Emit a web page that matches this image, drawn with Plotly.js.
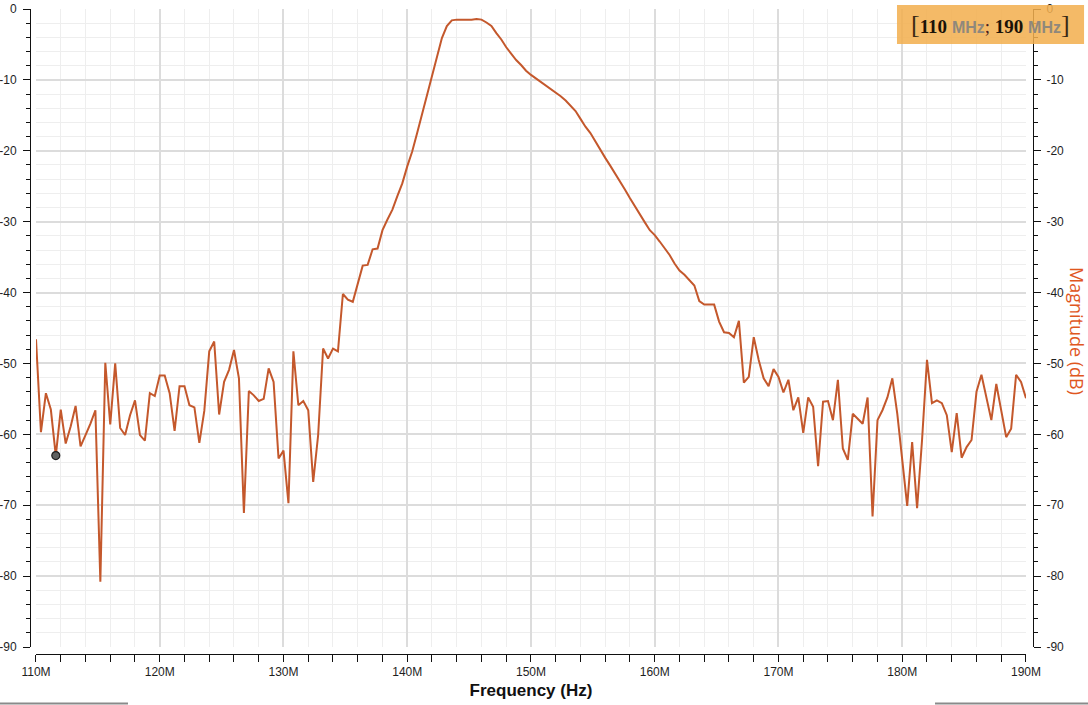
<!DOCTYPE html>
<html>
<head>
<meta charset="utf-8">
<script src="https://cdn.plot.ly/plotly-3.0.1.min.js"></script>
<style>
  html, body { margin: 0; padding: 0; background: #ffffff; }
  #chart { width: 1088px; height: 705px; }
</style>
</head>
<body>
<div id="chart"></div>
<script>
// ---- data ----
const freqMHz = [
  110,110.4,110.8,111.2,111.6,112,112.4,112.8,113.2,113.6,
  114,114.4,114.8,115.2,115.6,116,116.4,116.8,117.2,117.6,
  118,118.4,118.8,119.2,119.6,120,120.4,120.8,121.2,121.6,
  122,122.4,122.8,123.2,123.6,124,124.4,124.8,125.2,125.6,
  126,126.4,126.8,127.2,127.6,128,128.4,128.8,129.2,129.6,
  130,130.4,130.8,131.2,131.6,132,132.4,132.8,133.2,133.6,
  134,134.4,134.8,135.2,135.6,136,136.4,136.8,137.2,137.6,
  138,138.4,138.8,139.2,139.6,140,140.4,140.8,141.2,141.6,
  142,142.4,142.8,143.2,143.6,144,144.4,144.8,145.2,145.6,
  146,146.4,146.8,147.2,147.6,148,148.4,148.8,149.2,149.6,
  150,150.4,150.8,151.2,151.6,152,152.4,152.8,153.2,153.6,
  154,154.4,154.8,155.2,155.6,156,156.4,156.8,157.2,157.6,
  158,158.4,158.8,159.2,159.6,160,160.4,160.8,161.2,161.6,
  162,162.4,162.8,163.2,163.6,164,164.4,164.8,165.2,165.6,
  166,166.4,166.8,167.2,167.6,168,168.4,168.8,169.2,169.6,
  170,170.4,170.8,171.2,171.6,172,172.4,172.8,173.2,173.6,
  174,174.4,174.8,175.2,175.6,176,176.4,176.8,177.2,177.6,
  178,178.4,178.8,179.2,179.6,180,180.4,180.8,181.2,181.6,
  182,182.4,182.8,183.2,183.6,184,184.4,184.8,185.2,185.6,
  186,186.4,186.8,187.2,187.6,188,188.4,188.8,189.2,189.6,
  190
];
const magnitudeDb = [
  -46.6,-59.7,-54.2,-56.5,-63.0,-56.5,-61.3,-58.9,-56.0,-61.7,
  -60.1,-58.5,-56.6,-80.8,-49.9,-58.6,-50.0,-59.1,-60.1,-57.3,
  -55.2,-60.1,-60.9,-54.2,-54.6,-51.7,-51.7,-54.2,-59.5,-53.2,
  -53.2,-55.9,-56.2,-61.2,-56.7,-48.3,-46.9,-57.2,-52.6,-50.9,
  -48.1,-52.1,-71.1,-53.9,-54.5,-55.3,-55.0,-50.7,-52.6,-63.4,
  -62.3,-69.7,-48.3,-55.9,-55.3,-56.6,-66.7,-60.1,-47.9,-49.3,
  -47.9,-48.3,-40.2,-41.0,-41.3,-38.7,-36.2,-36.1,-33.9,-33.8,
  -31.2,-29.7,-28.3,-26.4,-24.6,-22.2,-20.1,-17.5,-14.9,-12.3,
  -9.5,-6.7,-4.1,-2.4,-1.6,-1.5,-1.5,-1.6,-1.5,-1.4,
  -1.5,-1.9,-2.4,-3.4,-4.3,-5.4,-6.3,-7.2,-7.9,-8.7,
  -9.3,-9.8,-10.3,-10.8,-11.2,-11.7,-12.3,-12.9,-13.6,-14.4,
  -15.5,-16.6,-17.5,-18.7,-20.0,-21.0,-22.1,-23.2,-24.4,-25.5,
  -26.7,-27.9,-28.9,-30.1,-31.2,-31.9,-32.8,-33.7,-34.7,-35.9,
  -36.9,-37.5,-38.2,-39.0,-41.2,-41.7,-41.7,-41.7,-44.1,-45.6,
  -45.7,-46.3,-44.0,-52.7,-51.9,-46.3,-49.5,-52.1,-53.2,-50.8,
  -51.9,-54.1,-52.3,-56.6,-54.8,-59.8,-54.8,-56.1,-64.5,-55.4,
  -55.3,-58.0,-52.3,-62.0,-63.6,-57.1,-57.8,-58.5,-54.8,-71.6,
  -58.0,-56.6,-54.8,-52.1,-57.1,-63.6,-70.1,-61.1,-70.4,-60.8,
  -49.5,-55.6,-55.2,-55.6,-57.3,-62.5,-57.0,-63.3,-61.8,-60.8,
  -54.0,-51.6,-54.9,-58.0,-52.9,-56.4,-60.4,-59.2,-51.6,-52.6,
  -54.9
];
const markerFreqMHz = [111.6];
const markerDb = [-63.0];

const xTickVals = [110,120,130,140,150,160,170,180,190];
const xTickText = ["110M","120M","130M","140M","150M","160M","170M","180M","190M"];
const yTickVals = [0,-10,-20,-30,-40,-50,-60,-70,-80,-90];
const yTickText = ["0","-10","-20","-30","-40","-50","-60","-70","-80","-90"];

const xTitle = "Frequency (Hz)";
const yTitle = "Magnitude (dB)";
const rangeStart = "110", rangeEnd = "190", rangeUnit = "MHz";

// ---- styling ----
const lineColor = "#c4582c";
const tickFont = {family: "Liberation Sans, Arial, sans-serif", size: 12, color: "#1e1e1e"};
const majorGrid = "#dcdcdc";
const minorGrid = "#eeeeee";

const traces = [
  {
    x: freqMHz, y: magnitudeDb, type: "scatter", mode: "lines",
    line: {color: lineColor, width: 2},
    hoverinfo: "x+y", showlegend: false, xaxis: "x", yaxis: "y"
  },
  {
    x: markerFreqMHz, y: markerDb, type: "scatter", mode: "markers",
    marker: {color: "#5f6160", size: 8, line: {color: "#1f1f1f", width: 1.2}},
    showlegend: false, xaxis: "x", yaxis: "y2"
  }
];

const gray = "#111111";
const yCommon = {
  range: [-90, 0], domain: [0.01085, 1], anchor: "free",
  tickmode: "array", tickvals: yTickVals, ticktext: yTickText,
  ticks: "outside", ticklen: 7, tickwidth: 1, tickcolor: gray,
  showline: true, linecolor: gray, linewidth: 1,
  zeroline: false, tickfont: tickFont, fixedrange: true
};

const layout = {
  width: 1088, height: 705,
  margin: {l: 30, r: 55, t: 9, b: 51, pad: 0},
  paper_bgcolor: "#ffffff", plot_bgcolor: "#ffffff",
  showlegend: false,
  xaxis: {
    range: [110, 190], domain: [0.00598, 0.99302], anchor: "free", position: 0,
    tickmode: "array", tickvals: xTickVals, ticktext: xTickText,
    ticks: "outside", ticklen: 7, tickwidth: 1, tickcolor: gray,
    showline: true, linecolor: gray, linewidth: 1,
    showgrid: true, gridcolor: majorGrid, gridwidth: 2,
    minor: {tickmode: "linear", tick0: 110, dtick: 2, ticks: "outside", ticklen: 7, tickcolor: gray,
            showgrid: true, gridcolor: minorGrid, gridwidth: 1},
    zeroline: false, tickfont: tickFont, fixedrange: true,
    title: {text: "<b>" + xTitle + "</b>", standoff: 5,
            font: {family: "Liberation Sans, Arial, sans-serif", size: 17, color: "#111111"}}
  },
  yaxis: Object.assign({}, yCommon, {
    position: 0, side: "left",
    showgrid: true, gridcolor: majorGrid, gridwidth: 2,
    ticklabelstandoff: 4,
    minor: {tickmode: "linear", tick0: 0, dtick: 2, ticks: "outside", ticklen: 4, tickcolor: gray,
            showgrid: true, gridcolor: minorGrid, gridwidth: 1}
  }),
  yaxis2: Object.assign({}, yCommon, {
    position: 1, side: "right", overlaying: "y",
    showgrid: false, ticklabelstandoff: 3,
    minor: {tickmode: "linear", tick0: 0, dtick: 2, ticks: "outside", ticklen: 4, tickcolor: gray, showgrid: false}
  }),
  shapes: [
    {type: "rect", xref: "paper", yref: "paper", x0: 0.8644, x1: 1.0509, y0: 0.9457, y1: 1.0062,
     fillcolor: "rgba(242,175,78,0.86)", line: {width: 0}, layer: "above"},
    {type: "line", xref: "paper", yref: "paper", x0: -0.03, x1: 0.0977, y0: -0.0767, y1: -0.0767,
     line: {color: "#8a8a8a", width: 2}},
    {type: "line", xref: "paper", yref: "paper", x0: 0.9023, x1: 1.06, y0: -0.0767, y1: -0.0767,
     line: {color: "#8a8a8a", width: 2}}
  ],
  annotations: [
    {
      xref: "paper", yref: "paper", x: 1.0439, y: 0.5008, xanchor: "center", yanchor: "middle",
      text: yTitle, textangle: 90, showarrow: false,
      font: {family: "Open Sans, DejaVu Sans, sans-serif", size: 18, color: "#e0571f"}
    },
    {
      xref: "paper", yref: "paper", x: 0.9576, y: 0.976, xanchor: "center", yanchor: "middle",
      showarrow: false,
      font: {family: "Liberation Serif, DejaVu Serif, serif", size: 19, color: "#1a1208"},
      text: '<span style="font-size:26px;color:#3a2a14">[</span>' +
            '<span style="font-weight:bold">' + rangeStart + '</span> ' +
            '<span style="font-weight:bold;color:#8f887c;font-family:Liberation Sans, Arial, sans-serif;font-size:16px">' + rangeUnit + '</span>' +
            '<span style="color:#4a1c1c">;</span> ' +
            '<span style="font-weight:bold">' + rangeEnd + '</span> ' +
            '<span style="font-weight:bold;color:#8f887c;font-family:Liberation Sans, Arial, sans-serif;font-size:16px">' + rangeUnit + '</span>' +
            '<span style="font-size:26px;color:#3a2a14">]</span>'
    }
  ]
};

Plotly.newPlot("chart", traces, layout, {displayModeBar: false, staticPlot: false, responsive: false});
</script>
</body>
</html>
